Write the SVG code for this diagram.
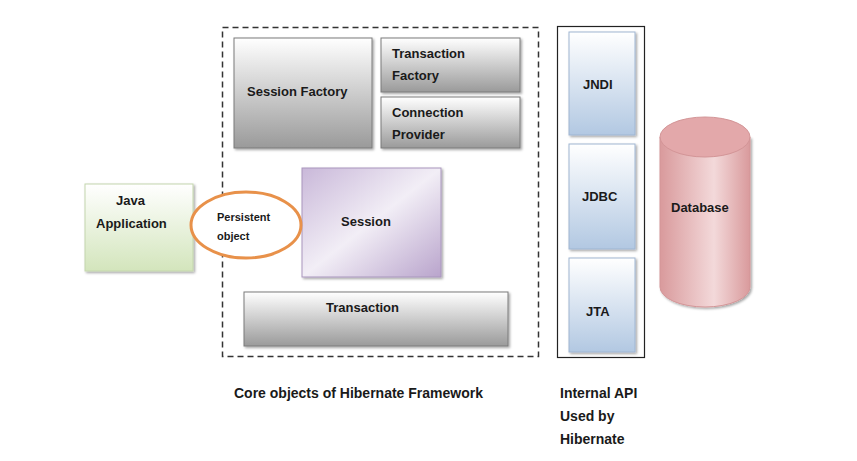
<svg xmlns="http://www.w3.org/2000/svg" width="857" height="461" viewBox="0 0 857 461">
<defs>
<linearGradient id="gGray" x1="0" y1="0" x2="0" y2="1"><stop offset="0" stop-color="#ffffff"/><stop offset="1" stop-color="#9a9a9a"/></linearGradient>
<linearGradient id="gGreen" x1="0" y1="0" x2="0" y2="1"><stop offset="0" stop-color="#ffffff"/><stop offset="1" stop-color="#d3e5bc"/></linearGradient>
<linearGradient id="gBlue" x1="0" y1="0" x2="0" y2="1"><stop offset="0" stop-color="#ffffff"/><stop offset="1" stop-color="#b2c8e2"/></linearGradient>
<linearGradient id="gPurple" x1="0" y1="0" x2="1" y2="1"><stop offset="0" stop-color="#c9b8d9"/><stop offset="0.5" stop-color="#f2eef6"/><stop offset="1" stop-color="#b9a4cc"/></linearGradient>
<linearGradient id="gRed" x1="0" y1="0" x2="1" y2="0"><stop offset="0" stop-color="#d99a9c"/><stop offset="0.6" stop-color="#f3d9da"/><stop offset="1" stop-color="#d99a9c"/></linearGradient>
<filter id="sh" x="-10%" y="-10%" width="130%" height="130%"><feDropShadow dx="1.5" dy="1.5" stdDeviation="1.2" flood-color="#000" flood-opacity="0.35"/></filter>
</defs>
<style>
text{font-family:"Liberation Sans",Arial,sans-serif;font-weight:bold;font-size:13px;fill:#1a1a1a}
.gray{fill:url(#gGray);stroke:#7a7a7a;stroke-width:1;filter:url(#sh)}
.blue{fill:url(#gBlue);stroke:#9fb6d2;stroke-width:1;filter:url(#sh)}
.small{font-size:11px}
.cap{font-size:14px}
</style>
<rect width="857" height="461" fill="#ffffff"/>
<g id="core-frame"><rect x="222.5" y="27.5" width="316" height="329" fill="none" stroke="#333" stroke-width="1.5" stroke-dasharray="6,4"/></g>
<g id="session-factory"><rect class="gray" x="234" y="38" width="138" height="110"/><text x="247" y="96">Session Factory</text></g>
<g id="transaction-factory"><rect class="gray" x="381" y="38" width="139" height="54"/><text x="392" y="58">Transaction</text><text x="392" y="80">Factory</text></g>
<g id="connection-provider"><rect class="gray" x="381" y="97" width="139" height="51"/><text x="392" y="117">Connection</text><text x="392" y="139">Provider</text></g>
<g id="session"><rect x="302" y="168" width="139" height="109" fill="url(#gPurple)" stroke="#a996bd" stroke-width="1" filter="url(#sh)"/><text x="341" y="226">Session</text></g>
<g id="transaction"><rect class="gray" x="244" y="292" width="264" height="54"/><text x="326" y="312">Transaction</text></g>
<g id="java-application"><rect x="85" y="184" width="108" height="87" fill="url(#gGreen)" stroke="#c4d6ad" stroke-width="1" filter="url(#sh)"/><text x="116" y="205">Java</text><text x="96" y="228">Application</text></g>
<g id="persistent-object"><ellipse cx="246" cy="225" rx="55" ry="33" fill="#ffffff" stroke="#e8914a" stroke-width="3"/><text class="small" x="217" y="221">Persistent</text><text class="small" x="217" y="240">object</text></g>
<g id="internal-api-frame"><rect x="557.5" y="26.5" width="87" height="331" fill="none" stroke="#222" stroke-width="1.2"/></g>
<g id="jndi"><rect class="blue" x="569" y="32" width="66" height="103"/><text x="583" y="89">JNDI</text></g>
<g id="jdbc"><rect class="blue" x="569" y="144" width="66" height="105"/><text x="582" y="201">JDBC</text></g>
<g id="jta"><rect class="blue" x="569" y="258" width="66" height="94"/><text x="586" y="316">JTA</text></g>
<g id="database"><path d="M660 137 L660 287 A45 20 0 0 0 750 287 L750 137" fill="url(#gRed)" stroke="#d39597" stroke-width="1" filter="url(#sh)"/><ellipse cx="705" cy="137" rx="45" ry="20" fill="#e3a8aa" stroke="#d39597" stroke-width="1"/><text x="671" y="212">Database</text></g>
<g id="connectors"></g>
<g id="captions"><text class="cap" x="234" y="398">Core objects of Hibernate Framework</text><text class="cap" x="560" y="398">Internal API</text><text class="cap" x="560" y="421">Used by</text><text class="cap" x="560" y="444">Hibernate</text></g>
</svg>
